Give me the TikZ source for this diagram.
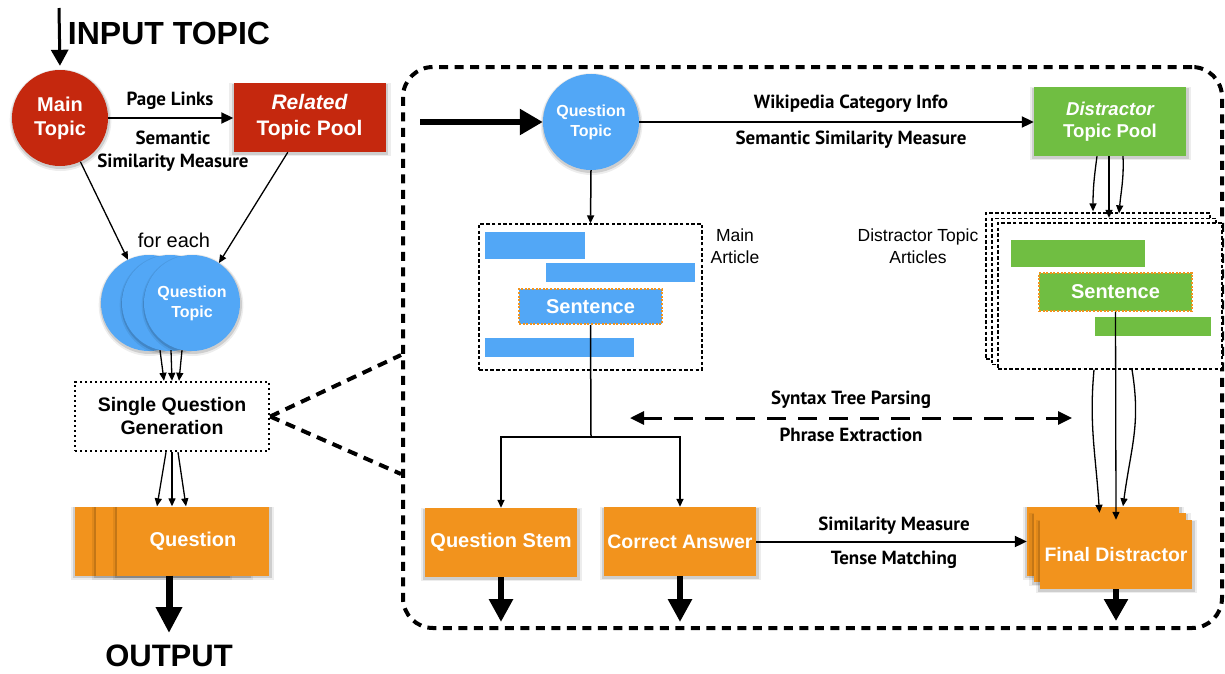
\documentclass[tikz,border=0pt]{standalone}
\usepackage{fontspec}
\setmainfont{Liberation Sans}
\newfontfamily\lblfont{PT Sans}
\usetikzlibrary{arrows.meta,shadows,calc}
\definecolor{cred}{RGB}{197,40,14}
\definecolor{cblue}{RGB}{82,167,246}
\definecolor{cgreen}{RGB}{112,190,66}
\definecolor{corange}{RGB}{242,147,29}
\begin{document}
\begin{tikzpicture}[x=1pt,y=-1pt,
  shad/.style={general shadow={shadow scale=1.06,shadow yshift=-2pt,shadow xshift=0.5pt,opacity=0.07,fill=black},
               general shadow={shadow scale=1.03,shadow yshift=-1.5pt,shadow xshift=0.5pt,opacity=0.13,fill=black}},
  redcirc/.style={circle,fill=cred,minimum size=96pt,inner sep=0pt,text=white,align=center,shad,
     font=\bfseries\fontsize{20}{24}\selectfont},
  bluecirc/.style={circle,fill=cblue,minimum size=96pt,inner sep=0pt,text=white,align=center,shad,
     font=\bfseries\fontsize{16}{20}\selectfont},
  poolbox/.style={rectangle,minimum width=152pt,minimum height=69pt,inner sep=0pt,text=white,align=center,shad},
  orbox/.style={rectangle,fill=corange,minimum width=152pt,minimum height=69pt,inner sep=0pt,text=white,align=center,shad,
     font=\bfseries\fontsize{19.5}{23}\selectfont},
  bar/.style={rectangle,inner sep=0pt,fill=#1},
  sentbox/.style={rectangle,inner sep=0pt,fill=#1,draw=corange,line width=1.6pt,dash pattern=on 2pt off 1.6pt,
     text=white,font=\bfseries\fontsize{20}{24}\selectfont},
  artbox/.style={rectangle,inner sep=0pt,fill=white,draw=black,line width=1.3pt,dash pattern=on 3.5pt off 2.2pt,
     minimum width=224pt,minimum height=146pt},
  lbl/.style={inner sep=0pt,font=\lblfont\bfseries\fontsize{19}{22}\selectfont},
  plain/.style={inner sep=0pt,align=center,font=\fontsize{17.5}{22}\selectfont},
  arrS/.style={-{Triangle[length=8pt,width=7pt]},line width=1.3pt},
  arrM/.style={-{Triangle[length=12pt,width=11pt]},line width=2pt},
  zoomdash/.style={line width=4pt,dash pattern=on 10pt off 7pt},
  ]
\useasboundingbox (0,0) rectangle (1225,673);

% ---------------- left part ----------------
\node[inner sep=0pt,font=\bfseries\fontsize{32}{36}\selectfont] (intext) at (169,33) {INPUT TOPIC};
\coordinate (intop) at (59,8);
\node[redcirc] (main) at (60,118) {Main\\Topic};
\draw[-{Triangle[length=16pt,width=17pt]},line width=3pt,shorten >=4pt] (intop) -- (main.north);

\node[poolbox,fill=cred,font=\bfseries\fontsize{21}{26}\selectfont] (related) at (309.5,117.5) {\itshape Related\\Topic Pool};
\draw[arrM] (main.east) -- (main.east -| related.west);
\node[lbl] (pl) at (170,101) {Page Links};
\node[lbl] (sem) at (173,138) {Semantic};
\node[lbl] (simm) at (173,163) {Similarity Measure};

\node[bluecirc] (qa) at (149,303) {};
\node[bluecirc] (qb) at (170,303) {};
\node[bluecirc] (qc) at (192,303) {Question\\Topic};
\node[inner sep=0pt,font=\fontsize{20}{24}\selectfont] (foreach) at (174,240) {for each};

\draw[arrS] (main.-65) -- (qa.116);
\draw[arrS] (related.-122) -- (qc.56);

\node[rectangle,draw=black,line width=2.4pt,dash pattern=on 2.4pt off 2.6pt,minimum width=194pt,minimum height=69pt,
      inner sep=0pt,align=center,font=\bfseries\fontsize{19.5}{23}\selectfont] (sqg) at (172,416.5) {Single Question\\Generation};

\draw[arrS] ($(qb.south)+(-10,-1)$) -- ($(sqg.north)+(-8,0)$);
\draw[arrS] ($(qb.south)+(1,-1)$) -- ($(sqg.north)+(0,0)$);
\draw[arrS] ($(qb.south)+(12,-1)$) -- ($(sqg.north)+(7,0)$);

\node[orbox] (q1) at (151,541) {};
\node[orbox] (q2) at (172,541) {};
\node[orbox,font=\bfseries\fontsize{20}{24}\selectfont] (q3) at (193,541) {Question};

\draw[arrS] ($(sqg.south)+(-6,0)$) -- ($(q3.north)+(-36,0)$);
\draw[arrS] ($(sqg.south)+(0,0)$) -- ($(q3.north)+(-21,0)$);
\draw[arrS] ($(sqg.south)+(6,0)$) -- ($(q3.north)+(-7,0)$);

\coordinate (outtip) at (169,633);
\draw[-{Triangle[length=26pt,width=25pt]},line width=7pt] ($(q3.south)+(-24,0)$) -- (outtip);
\node[inner sep=0pt,font=\bfseries\fontsize{31}{36}\selectfont] (outtext) at (169,656) {OUTPUT};

% ---------------- frame ----------------
\node[rectangle,draw=black,line width=4pt,dash pattern=on 9pt off 6.5pt,rounded corners=30pt,
      minimum width=819pt,minimum height=561pt,inner sep=0pt] (frame) at (812.5,347.5) {};
\draw[zoomdash] (sqg.east) -- (frame.west |- 0,355);
\draw[zoomdash] (sqg.east) -- (frame.west |- 0,474);

% ---------------- right part ----------------
\node[bluecirc] (qt) at (591,122) {Question\\Topic};
\coordinate (entry) at (420,122);
\draw[-{Triangle[length=23pt,width=25pt]},line width=5.5pt] (entry) -- (qt.west);

\node[poolbox,fill=cgreen,font=\bfseries\fontsize{18.6}{22}\selectfont] (dtp) at (1110,121.5) {\itshape Distractor\\Topic Pool};
\draw[arrM] (qt.east) -- (qt.east -| dtp.west);
\node[lbl] (wiki) at (851,104) {Wikipedia Category Info};
\node[lbl] (ssm) at (851,140) {Semantic Similarity Measure};

% main article
\node[artbox,minimum width=223pt] (ma) at (590.5,297) {};
\node[bar=cblue,minimum width=100pt,minimum height=27pt] (b1) at (535,245.5) {};
\node[bar=cblue,minimum width=149pt,minimum height=19pt] (b2) at (620.5,272.5) {};
\node[sentbox=cblue,minimum width=143pt,minimum height=35pt] (sentA) at (590.5,306.5) {Sentence};
\node[bar=cblue,minimum width=149pt,minimum height=19pt] (b4) at (559.5,347.5) {};
\node[plain] (matext) at (735,246) {Main\\Article};
\draw[arrS,line width=1.5pt] (qt.south) -- (ma.north);

% distractor articles
\node[artbox] (da1) at (1098,286) {};
\node[artbox] (da2) at (1104,291.5) {};
\node[artbox] (da3) at (1110,296) {};
\node[bar=cgreen,minimum width=134pt,minimum height=27pt] (g1) at (1078,253.5) {};
\node[sentbox=cgreen,minimum width=153pt,minimum height=38pt] (sentB) at (1115.5,292) {Sentence};
\node[bar=cgreen,minimum width=116pt,minimum height=19pt] (g3) at (1153,326.5) {};
\node[plain] (datext) at (918,246) {Distractor Topic\\Articles};

\draw[arrS] ($(dtp.south)+(-13,0)$) .. controls +(-3,22) and +(0,-22) .. ($(da1.north)+(-5,-1)$);
\draw[arrS] ($(dtp.south)+(-1,0)$) -- ($(da2.north)+(5,0)$);
\draw[arrS] ($(dtp.south)+(13,0)$) .. controls +(1,22) and +(2,-22) .. ($(da1.north)+(21,1)$);

% stems
\node[orbox,font=\bfseries\fontsize{20}{24}\selectfont] (qs) at (501,542.5) {Question Stem};
\node[orbox] (ca) at (680,541.5) {Correct Answer};
\coordinate (junc) at (591,437);
\draw[line width=1.5pt] (sentA.south) -- (junc);
\draw[arrS,line width=1.5pt] (junc) -| (qs.north);
\draw[arrS,line width=1.5pt] (junc) -| (ca.north);

\coordinate (qsout) at (501,622);
\coordinate (caout) at (680,622);
\draw[-{Triangle[length=23pt,width=23pt]},line width=6pt] (qs.south) -- (qsout);
\draw[-{Triangle[length=23pt,width=23pt]},line width=6pt] (ca.south) -- (caout);

% final distractor
\node[orbox] (fd1) at (1103,541) {};
\node[orbox] (fd2) at (1109.5,547.5) {};
\node[orbox] (fd3) at (1116,554.5) {Final Distractor};
\draw[arrM] (ca.east) -- (ca.east -| fd1.west);
\node[lbl] (simm2) at (894,526) {Similarity Measure};
\node[lbl] (tense) at (894,560) {Tense Matching};

\coordinate (fdout) at (1116,621);
\draw[-{Triangle[length=22pt,width=23pt]},line width=6pt] (fd3.south) -- (fdout);

\draw[arrS] (sentB.south) -- (fd3.north);
\draw[arrS] ($(da3.south)+(-16,0)$) .. controls +(-5,55) and +(-4,-60) .. ($(fd2.north)+(-10,0)$);
\draw[arrS] ($(da3.south)+(22,0)$) .. controls +(9,55) and +(8,-60) .. ($(fd1.north)+(20,0)$);

% syntax arrow
\coordinate (dl) at (630,418);
\coordinate (dr) at (1072,418);
\draw[{Triangle[length=14pt,width=13pt]}-{Triangle[length=14pt,width=13pt]},line width=3pt,dash pattern=on 19pt off 12pt] (dl) -- (dr);
\node[lbl] (syn) at (851,400) {Syntax Tree Parsing};
\node[lbl] (phr) at (851,435) {Phrase Extraction};
\end{tikzpicture}
\end{document}
